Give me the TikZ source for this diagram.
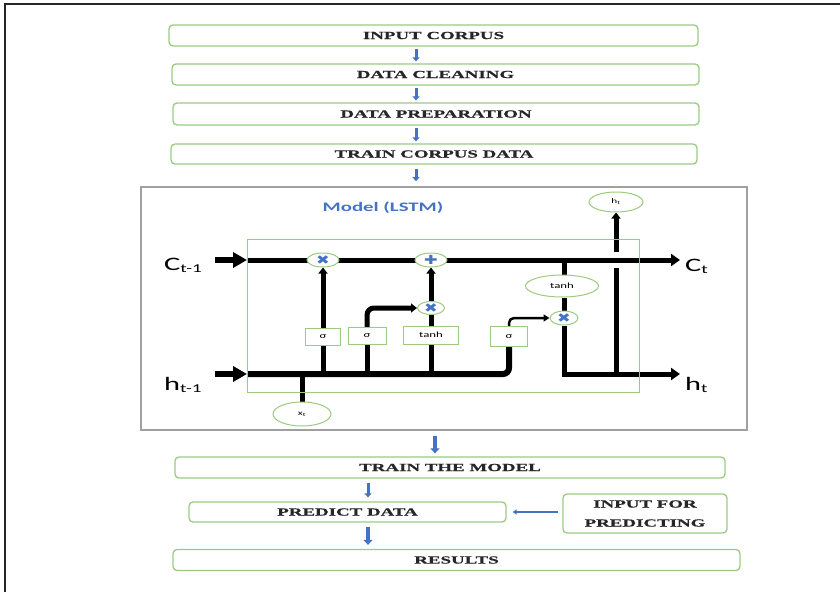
\documentclass[tikz,border=0pt]{standalone}
\usepackage{fontspec}
\setmainfont{Liberation Serif}
\newfontfamily\stagefont{Liberation Serif}[FakeStretch=1.75, BoldFeatures={FakeBold=0.6}]
\newfontfamily\lstmfont{Carlito}[FakeStretch=1.6]
\newfontfamily\symfont{DejaVu Sans}[FakeStretch=1.3]
\usetikzlibrary{arrows.meta,calc,shapes.geometric}
\definecolor{boxgreen}{HTML}{9CCB80}
\definecolor{flowblue}{HTML}{4472C4}
\definecolor{framegray}{HTML}{A0A0A0}
\pgfdeclarelayer{background}
\pgfsetlayers{background,main}
\tikzset{
  stage/.style={draw=boxgreen, line width=1.3pt, rounded corners=4pt, fill=white, inner sep=0pt,
    text=black!85, font=\stagefont\bfseries\fontsize{10.8}{19}\selectfont, align=center},
  flow/.style={draw=flowblue, line width=3pt, -{Triangle[width=7pt,length=4pt]}},
  gate/.style={draw=boxgreen, line width=1pt, fill=white, inner sep=0pt, minimum height=17pt,
    font=\lstmfont\fontsize{8}{8}\selectfont},
  op/.style={ellipse, draw=boxgreen, line width=1pt, fill=white, inner sep=0pt,
    text=flowblue, font=\symfont\fontsize{12.5}{12.5}\selectfont},
  lbl/.style={ellipse, draw=boxgreen, line width=1pt, fill=white, inner sep=0pt,
    font=\lstmfont\fontsize{7}{7}\selectfont},
  wire/.style={line width=5pt, black},
  bigtip/.style={-{Triangle[width=15pt,length=14pt]}},
  endtip/.style={-{Triangle[width=12pt,length=9pt]}},
  uptip/.style={-{Triangle[width=9pt,length=6pt]}},
  io/.style={font=\lstmfont\fontsize{19}{19}\selectfont, inner sep=0pt, anchor=base west},
}
\newcommand{\subtxt}[1]{{\fontsize{12}{12}\selectfont\raisebox{-2.5pt}{#1}}}
\begin{document}
\begin{tikzpicture}[x=1pt,y=-1pt]
\useasboundingbox (0,0) rectangle (840,592);
% outer frame (top and left edges)
\draw[line width=1.3pt, black!85] (5,592) -- (5,4) -- (840,4);

% pipeline boxes
\node[stage, minimum width=529, minimum height=21] (incorp) at (433.5,35.5) {INPUT CORPUS};
\node[stage, minimum width=527, minimum height=21] (clean) at (435.5,74.5) {DATA CLEANING};
\node[stage, minimum width=526, minimum height=22] (prep) at (436,114) {DATA PREPARATION};
\node[stage, minimum width=526, minimum height=20] (tcorp) at (434,154) {TRAIN CORPUS DATA};
\node[stage, minimum width=550, minimum height=21] (tmodel) at (450,467.5) {TRAIN THE MODEL};
\node[stage, minimum width=317, minimum height=20] (pred) at (347.5,512) {PREDICT DATA};
\node[stage, minimum width=164, minimum height=39] (inpred) at (645,513.5) {INPUT FOR\\PREDICTING};
\node[stage, minimum width=567, minimum height=21] (res) at (456.5,560) {RESULTS};

% LSTM frame
\node[draw=framegray, line width=1.6pt, minimum width=606, minimum height=243, inner sep=0pt] (lstm) at (444,308.5) {};
\node[draw=boxgreen, line width=1pt, minimum width=392, minimum height=153, inner sep=0pt] (cell) at (443,315.5) {};
\node[text=flowblue, font=\lstmfont\bfseries\fontsize{13}{13}\selectfont] (title) at (383,208) {Model (LSTM)};

% flow arrows
\coordinate (ax) at (416,0);
\coordinate (bx) at (435,0);
\coordinate (cx) at (368,0);
\draw[flow, shorten <=2pt, shorten >=2pt] (incorp.south -| ax) -- (clean.north -| ax);
\draw[flow, shorten <=2pt, shorten >=2pt] (clean.south -| ax) -- (prep.north -| ax);
\draw[flow, shorten <=2pt, shorten >=2pt] (prep.south -| ax) -- (tcorp.north -| ax);
\draw[flow, shorten <=4pt, shorten >=5pt] (tcorp.south -| ax) -- (lstm.north -| ax);
\draw[flow, line width=4pt, -{Triangle[width=9pt,length=5pt]}, shorten <=5pt, shorten >=3pt] (lstm.south -| bx) -- (tmodel.north -| bx);
\draw[flow, shorten <=4pt, shorten >=4pt] (tmodel.south -| cx) -- (pred.north -| cx);
\draw[flow, line width=4.5pt, -{Triangle[width=9pt,length=5pt]}, shorten <=4pt, shorten >=4pt] (pred.south -| cx) -- (res.north -| cx);
\draw[draw=flowblue, line width=1.5pt, -{Triangle[width=5pt,length=4pt]}, shorten <=4pt, shorten >=6pt] (inpred.west |- pred.east) -- (pred.east);

% LSTM internals: gates and operators
\node[gate, minimum width=35] (s1) at (323,336.5) {σ};
\node[gate, minimum width=38] (s2) at (367,336) {σ};
\node[gate, minimum width=55, minimum height=18] (t1) at (431,335) {tanh};
\node[gate, minimum width=37, minimum height=20] (s3) at (509,336.5) {σ};
\node[op, minimum width=32, minimum height=14] (m1) at (323,260) {✖};
\node[op, minimum width=32, minimum height=14] (a1) at (431,260) {✚};
\node[op, minimum width=27, minimum height=13] (m2) at (431,308) {✖};
\node[op, minimum width=28, minimum height=14] (m3) at (564,318) {✖};
\node[lbl, minimum width=73, minimum height=22, font=\lstmfont\fontsize{8}{8}\selectfont] (t2) at (562,286) {tanh};
\node[lbl, minimum width=58, minimum height=24] (xt) at (302,414) {x\textsubscript{t}};
\node[lbl, minimum width=54, minimum height=20] (ht) at (616,202) {h\textsubscript{t}};

% input / output labels
\node[io] (cprev) at (164,270) {C\subtxt{t-1}};
\node[io] (hprev) at (164,390) {h\subtxt{t-1}};
\node[io] (cnext) at (685,271) {C\subtxt{t}};
\node[io] (hnext) at (685,390) {h\subtxt{t}};

\coordinate (cin) at (215,260);
\coordinate (cstart) at (247,260);
\coordinate (cend) at (680,260);
\coordinate (hin) at (215,374);
\coordinate (hstart) at (247,374);
\coordinate (hend) at (680,374);
\coordinate (tv) at (564,260);
\coordinate (hv) at (616,374);
\coordinate (hv1) at (616,268);
\coordinate (hv2) at (616,252);

\begin{pgfonlayer}{background}
\draw[wire, line width=6pt, bigtip] (cin) -- (cstart);
\draw[wire, line width=6pt, bigtip] (hin) -- (hstart);
\draw[wire, endtip] (cstart) -- (cend);
\draw[wire, line width=6pt, rounded corners=6pt] (hstart) -| (s3.south);
\draw[wire] (s1.south |- hstart) -- (s1.south);
\draw[wire, uptip] (s1.north) -- (m1.south);
\draw[wire] (s2.south |- hstart) -- (s2.south);
\draw[wire, rounded corners=7pt, uptip] (s2.north) |- (m2.west);
\draw[wire] (t1.south |- hstart) -- (t1.south);
\draw[wire] (t1.north) -- (m2.south);
\draw[wire, uptip] (m2.north) -- (a1.south);
\draw[line width=2.5pt, rounded corners=5pt, -{Triangle[width=7pt,length=6pt]}] (s3.north) |- (m3.west);
\draw[wire] (tv) -- (tv |- t2.north);
\draw[wire] (tv |- t2.south) -- (m3.north);
\draw[wire, endtip] (m3.south) |- (hend);
\draw[wire] (hv) -- (hv1);
\draw[wire, uptip] (hv2) -- (ht.south);
\draw[wire] (xt.north |- hstart) -- (xt.north);
\end{pgfonlayer}
\end{tikzpicture}
\end{document}
